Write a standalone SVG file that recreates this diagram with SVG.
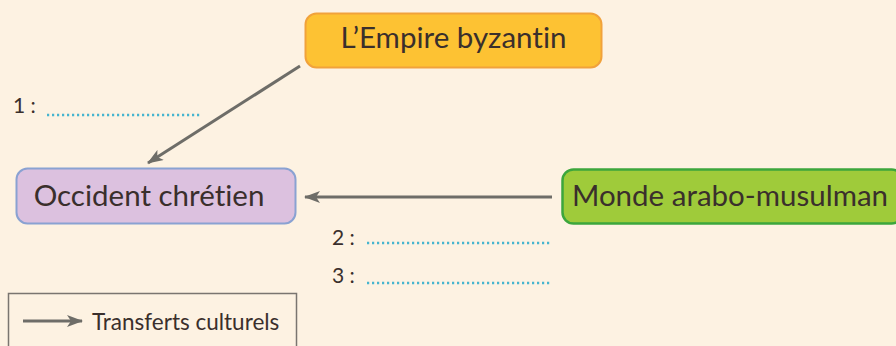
<svg xmlns="http://www.w3.org/2000/svg" width="896" height="346" viewBox="0 0 896 346">
<defs>
<style>
.lbl{font-family:"Lato","Liberation Sans",sans-serif;fill:#3a2f2c;font-variant-ligatures:none;}
.node{font-family:"Lato","Liberation Sans",sans-serif;font-size:29.5px;fill:#3a2f2c;font-variant-ligatures:none;}
.conn{stroke:#6e6d68;stroke-width:3;fill:none;}
.dots{stroke:#46b5cf;stroke-width:2.5;stroke-dasharray:2.2 2.8;fill:none;}
</style>
<marker id="ah" viewBox="0 0 16 12" refX="15" refY="6" markerWidth="16" markerHeight="12" markerUnits="userSpaceOnUse" orient="auto">
<path d="M0,0 L16,6 L0,12 L4,6 z" fill="#6e6d68"/>
</marker>
</defs>
<rect width="896" height="346" fill="#fdf2e2"/>
<g id="connectors">
<line class="conn" x1="300" y1="66" x2="148" y2="163" marker-end="url(#ah)"/>
<line class="conn" x1="552" y1="197" x2="305" y2="197" marker-end="url(#ah)"/>
</g>
<g id="byzantin">
<rect x="305.5" y="13.5" width="296" height="54" rx="11" fill="#fdc233" stroke="#f1a23b" stroke-width="2"/>
<text class="node" x="453.5" y="48" text-anchor="middle">L’Empire byzantin</text>
</g>
<g id="occident">
<rect x="16.5" y="168.5" width="279" height="55" rx="11" fill="#dcc1df" stroke="#8aa2d2" stroke-width="2"/>
<text class="node" x="149" y="206" text-anchor="middle">Occident chrétien</text>
</g>
<g id="monde">
<rect x="562.5" y="169.5" width="340" height="54" rx="11" fill="#9fcb3a" stroke="#3ca63c" stroke-width="2.5"/>
<text class="node" x="730" y="206" text-anchor="middle">Monde arabo-musulman</text>
</g>
<g id="blanks">
<text class="lbl" x="13" y="113" font-size="21">1 :</text>
<line class="dots" x1="47" y1="115" x2="202" y2="115"/>
<text class="lbl" x="332" y="245" font-size="21">2 :</text>
<line class="dots" x1="367" y1="243" x2="551" y2="243"/>
<text class="lbl" x="332" y="283" font-size="21">3 :</text>
<line class="dots" x1="367" y1="283" x2="551" y2="283"/>
</g>
<g id="legend">
<rect x="8.5" y="293.5" width="288" height="60" fill="none" stroke="#7a7570" stroke-width="1.5"/>
<line class="conn" x1="23" y1="321" x2="82" y2="321" marker-end="url(#ah)"/>
<text class="lbl" x="92" y="330" font-size="22.5">Transferts culturels</text>
</g>
</svg>
